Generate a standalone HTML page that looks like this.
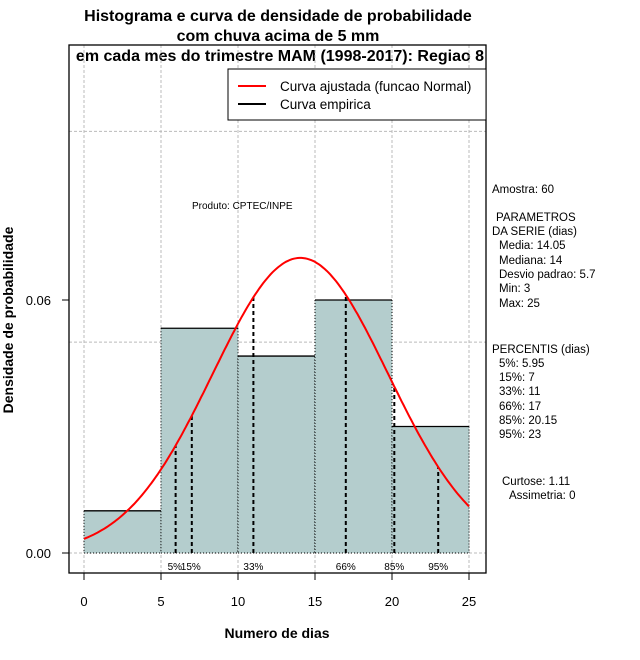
<!DOCTYPE html>
<html><head><meta charset="utf-8"><style>
html,body{margin:0;padding:0;background:#fff;}
svg{display:block;font-family:"Liberation Sans",sans-serif;}
</style></head><body>
<svg id="chart" width="640" height="660" viewBox="0 0 640 660" xmlns="http://www.w3.org/2000/svg">
<g font-weight="bold" font-size="16" text-anchor="middle" fill="#000">
<text x="278" y="21">Histograma e curva de densidade de probabilidade</text>
<text x="278" y="41">com chuva acima de 5 mm</text>
<text x="280" y="61">em cada mes do trimestre MAM (1998-2017): Regiao 8</text>
</g>
<g id="grid"></g>
<g id="bars"></g>
<g id="pct"></g>
<path id="curve" fill="none" stroke="#ff0000" stroke-width="2"/>
<rect x="69" y="45" width="417" height="528" fill="none" stroke="#000" stroke-width="1.3"/>
<g id="axes" font-size="13" fill="#000"></g>
<text x="277" y="638" font-size="14" font-weight="bold" text-anchor="middle">Numero de dias</text>
<text transform="translate(13,320) rotate(-90)" font-size="14" font-weight="bold" text-anchor="middle">Densidade de probabilidade</text>
<g>
<rect x="228" y="69" width="258" height="51" fill="#fff" stroke="#000" stroke-width="1"/>
<line x1="238" y1="86" x2="266" y2="86" stroke="#ff0000" stroke-width="2"/>
<text x="280" y="91" font-size="13.5">Curva ajustada (funcao Normal)</text>
<line x1="238" y1="104" x2="266" y2="104" stroke="#000" stroke-width="2"/>
<text x="280" y="109" font-size="13.5">Curva empirica</text>
</g>
<text x="192" y="209" font-size="10">Produto: CPTEC/INPE</text>
<g font-size="11.5" fill="#000">
<text x="492" y="193">Amostra: 60</text>
<text x="496" y="221">PARAMETROS</text>
<text x="492" y="235">DA SERIE (dias)</text>
<text x="499" y="249">Media: 14.05</text>
<text x="499" y="264">Mediana: 14</text>
<text x="499" y="278">Desvio padrao: 5.7</text>
<text x="499" y="292">Min: 3</text>
<text x="499" y="307">Max: 25</text>
<text x="492" y="353">PERCENTIS (dias)</text>
<text x="499" y="367">5%: 5.95</text>
<text x="499" y="381">15%: 7</text>
<text x="499" y="395">33%: 11</text>
<text x="499" y="410">66%: 17</text>
<text x="499" y="424">85%: 20.15</text>
<text x="499" y="438">95%: 23</text>
<text x="502" y="485">Curtose: 1.11</text>
<text x="509" y="499">Assimetria: 0</text>
</g>
</svg>
<script>
const binEdges = [0, 5, 10, 15, 20, 25];
const binDensity = [0.01, 0.0533, 0.0467, 0.06, 0.03];
const xTicks = [0, 5, 10, 15, 20, 25];
const yTicks = [0, 0.06];
const yTickLabels = ["0.00", "0.06"];
const gridY = [0, 0.05, 0.1];
const pctValues = [5.95, 7, 11, 17, 20.15, 23];
const pctLabels = ["5%", "15%", "33%", "66%", "85%", "95%"];
const meanVal = 14.05;
const sdVal = 5.7;

const NS = "http://www.w3.org/2000/svg";
const X = v => 84 + v * 15.4;
const Y = v => 553 - v * 4216.7;
const dnorm = x => Math.exp(-0.5 * ((x - meanVal) / sdVal) ** 2) / (sdVal * Math.sqrt(2 * Math.PI));
function mk(tag, attrs, parent) {
  const e = document.createElementNS(NS, tag);
  for (const k in attrs) e.setAttribute(k, attrs[k]);
  parent.appendChild(e);
  return e;
}
const grid = document.getElementById('grid');
xTicks.forEach(t => {
  const l = mk('line', {x1: X(t), x2: X(t), y1: 45, y2: 573, stroke: '#bbb', 'stroke-dasharray': '3,2'}, grid);
  
  
});
gridY.forEach(t => {
  const l = mk('line', {x1: 69, x2: 486, y1: Y(t), y2: Y(t), stroke: '#bbb', 'stroke-dasharray': '3,2'}, grid);
  
  
});
const bars = document.getElementById('bars');
binDensity.forEach((d, i) => {
  const x0 = X(binEdges[i]), x1 = X(binEdges[i + 1]), y = Y(d), y0 = Y(0);
  const r = mk('rect', {x: x0, y: y, width: x1 - x0, height: y0 - y, fill: '#b4cdcd'}, bars);
  
  
  mk('line', {x1: x0, x2: x1, y1: y, y2: y, stroke: '#000', 'stroke-width': 1.3}, bars);
  mk('line', {x1: x0, x2: x0, y1: y, y2: y0, stroke: '#000', 'stroke-dasharray': '1,2'}, bars);
  mk('line', {x1: x1, x2: x1, y1: y, y2: y0, stroke: '#000', 'stroke-dasharray': '1,2'}, bars);
  mk('line', {x1: x0, x2: x1, y1: y0, y2: y0, stroke: '#000', 'stroke-dasharray': '1,2'}, bars);
});
const pct = document.getElementById('pct');
pctValues.forEach((v, i) => {
  const l = mk('line', {x1: X(v), x2: X(v), y1: Y(0), y2: Y(dnorm(v)), stroke: '#000', 'stroke-width': 2, 'stroke-dasharray': '4,3'}, pct);
  
  
});
pctLabels.forEach((s, i) => {
  const t = mk('text', {x: X(pctValues[i]), y: 570, 'font-size': 10, 'text-anchor': 'middle'}, pct);
  if (i === 0) { t.setAttribute('x', X(pctValues[i]) - 8); t.setAttribute('text-anchor', 'start'); }
  if (i === 1) { t.setAttribute('x', X(pctValues[i]) - 11); t.setAttribute('text-anchor', 'start'); }
  t.textContent = s;
  
  
});
let d = '';
for (let i = 0; i <= 200; i++) {
  const x = 25 * i / 200;
  d += (i ? 'L' : 'M') + X(x).toFixed(1) + ',' + Y(dnorm(x)).toFixed(1);
}
document.getElementById('curve').setAttribute('d', d);
const axes = document.getElementById('axes');
xTicks.forEach(t => {
  mk('line', {x1: X(t), x2: X(t), y1: 573, y2: 580, stroke: '#000'}, axes);
  const tx = mk('text', {x: X(t), y: 606, 'text-anchor': 'middle'}, axes);
  tx.textContent = t;
  
  
});
yTicks.forEach((t, i) => {
  mk('line', {x1: 62, x2: 69, y1: Y(t), y2: Y(t), stroke: '#000'}, axes);
  const tx = mk('text', {x: 51, y: Y(t) + 5, 'text-anchor': 'end'}, axes);
  tx.textContent = yTickLabels[i];
  
  
});
</script>
</body></html>
